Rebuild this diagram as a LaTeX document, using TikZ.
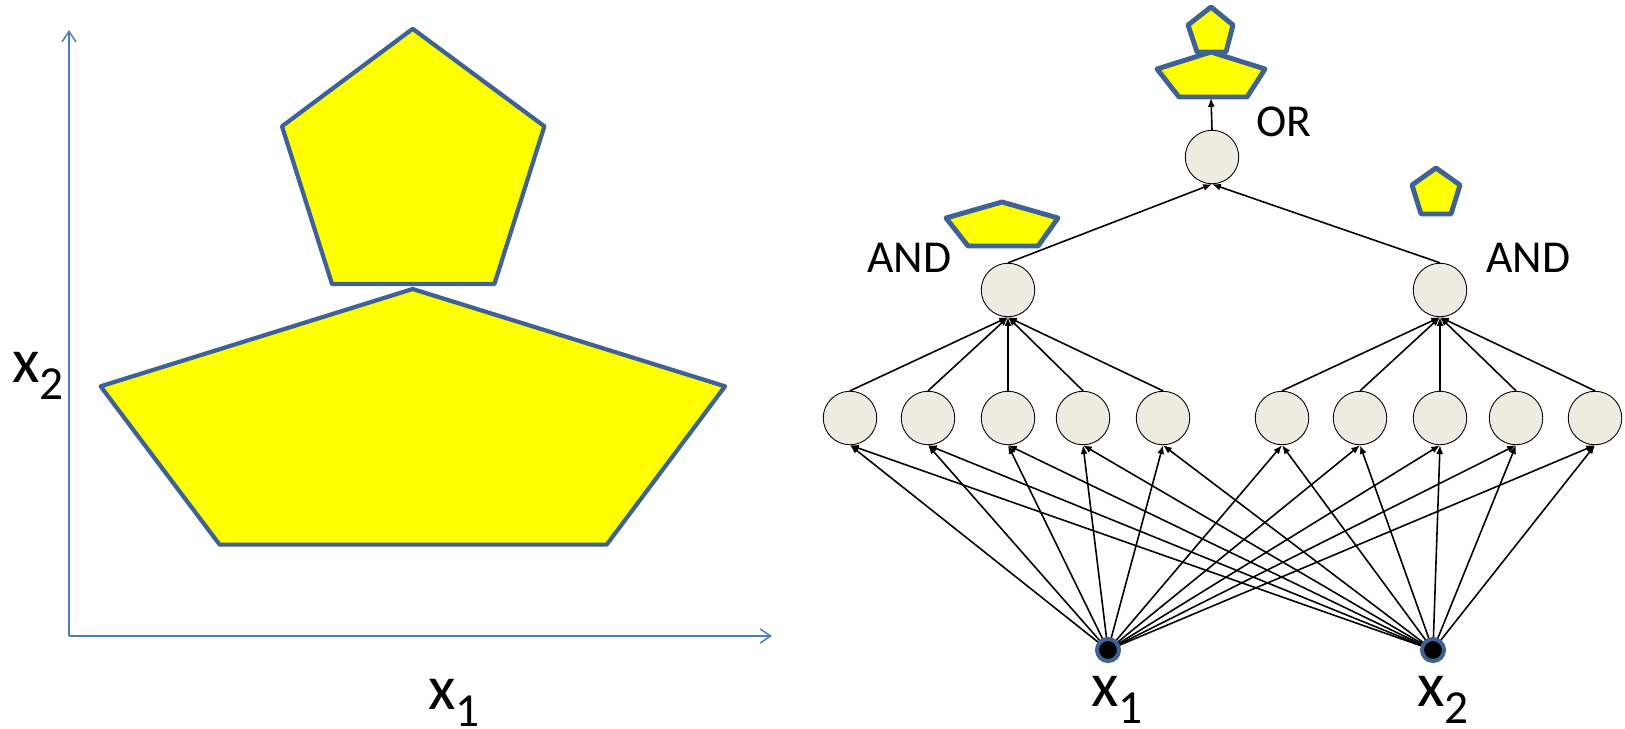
\documentclass[tikz,border=0pt]{standalone}
\usepackage{fontspec}
\setmainfont{Carlito}
\usetikzlibrary{arrows.meta}
\definecolor{shapeblue}{HTML}{3E6293}
\definecolor{axisblue}{HTML}{4A7EBB}
\definecolor{nodefill}{HTML}{EEECE1}
\definecolor{shapeyellow}{HTML}{FFFF00}
\pgfdeclarelayer{bg}
\pgfsetlayers{bg,main}
\newcommand{\varlab}[1]{{\fontsize{36}{40}\selectfont x\raisebox{-10pt}{\fontsize{27}{30}\selectfont #1}}}
\begin{document}
\begin{tikzpicture}[x=0.02cm,y=-0.02cm,
  unit/.style={circle, draw=black, line width=0.5pt, fill=nodefill, minimum size=1.07cm, inner sep=0pt},
  inputnode/.style={circle, fill=black, draw=shapeblue, line width=2.3pt, minimum size=0.44cm, inner sep=0pt},
  conn/.style={line width=0.9pt, -{Latex[length=5pt,width=4pt]}},
  poly/.style={draw=shapeblue, fill=shapeyellow, line width=2.4pt, line join=round},
  smallpoly/.style={draw=shapeblue, fill=shapeyellow, line width=2.8pt, line join=round},
  axis/.style={draw=axisblue, line width=0.85pt, -{Straight Barb[length=6pt,width=8pt]}},
  lbl/.style={anchor=base west, inner sep=0pt, font=\fontsize{26}{30}\selectfont},
  varl/.style={anchor=base west, inner sep=0pt},
]
\useasboundingbox (0,0) rectangle (1625,728);
\clip (0,0) rectangle (1625,728);

% ---------- left panel ----------
\coordinate (orig) at (69,636);
\coordinate (ytop) at (69,30);
\coordinate (xright) at (772,636);
\draw[axis] (orig) -- (ytop);
\draw[axis] (orig) -- (xright);

\draw[poly] (412.7,28.8) -- (544.4,126.3) -- (494.4,284) -- (332,284) -- (282,126.3) -- cycle;
\draw[poly] (412.7,289) -- (725,386.3) -- (606.7,544.6) -- (219.6,544.6) -- (100.6,386.3) -- cycle;

\node[varl] (lx2) at (12,382) {\varlab{2}};
\node[varl] (lx1) at (428,709) {\varlab{1}};

% ---------- right panel ----------
\node[unit] (o) at (1212,157) {};
\node[unit] (a1) at (1008,290) {};
\node[unit] (a2) at (1440,290) {};
\foreach \n/\x in {1/850,2/928,3/1008,4/1083,5/1163,6/1282,7/1360,8/1440,9/1516,10/1595}
  \node[unit] (h\n) at (\x,418) {};
\node[inputnode] (in1) at (1108,650) {};
\node[inputnode] (in2) at (1433,650) {};

\node[varl] (rx1) at (1091,706) {\varlab{1}};
\node[varl] (rx2) at (1417,706) {\varlab{2}};

\node[lbl] (andl) at (867,272) {AND};
\node[lbl] (andr) at (1486,272) {AND};
\node[lbl] (orl) at (1256,136) {OR};

% shapes above the units
\draw[smallpoly] (1211,52) -- (1265,69) -- (1247,97) -- (1179,97) -- (1157,69) -- cycle;
\draw[smallpoly] (1211,7) -- (1233,25) -- (1226,52) -- (1197,52) -- (1188,25) -- cycle;
\coordinate (orshape) at (1211,98);
\draw[smallpoly] (1002,202) -- (1058,218) -- (1038,246) -- (968,246) -- (946,218) -- cycle;
\draw[smallpoly] (1436,168) -- (1460,185) -- (1451,214) -- (1421,214) -- (1412,185) -- cycle;

\begin{pgfonlayer}{bg}
\foreach \i in {1,...,10} {
  \draw[conn] (in1.center) -- (h\i.south);
  \draw[conn] (in2.center) -- (h\i.south);
}
\foreach \i in {1,...,5} \draw[conn] (h\i.north) -- (a1.south);
\foreach \i in {6,...,10} \draw[conn] (h\i.north) -- (a2.south);
\draw[conn] (a1.north) -- (o.south);
\draw[conn] (a2.north) -- (o.south);
\draw[conn] (o.north) -- (orshape);
\end{pgfonlayer}
\end{tikzpicture}
\end{document}
